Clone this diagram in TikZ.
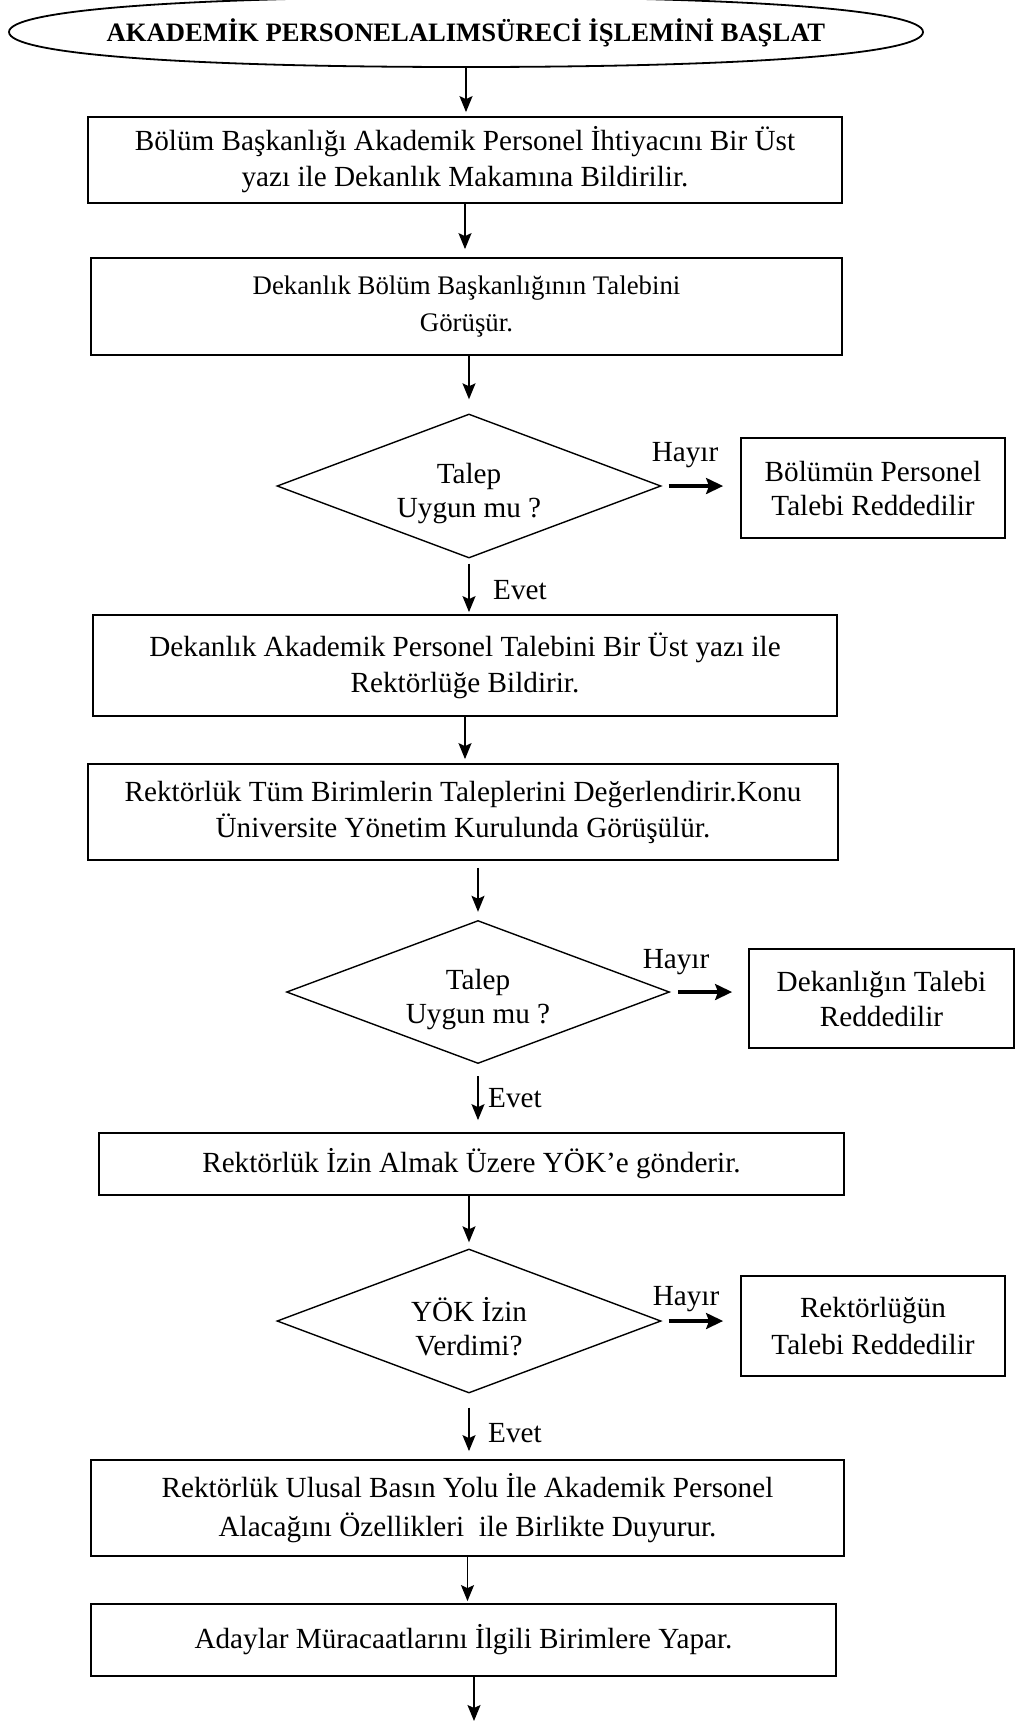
\documentclass[tikz,border=0pt]{standalone}
\usepackage{fontspec}
\setmainfont{Liberation Serif}
\usetikzlibrary{shapes.geometric,arrows.meta}

\tikzset{
  kutu/.style={draw,line width=.9pt,rectangle,inner sep=0pt,align=center,
    font=\fontsize{14.6}{18}\selectfont},
  karar/.style={draw,line width=.7pt,diamond,aspect=2.67,inner sep=0pt,align=center,
    minimum width=192pt,minimum height=72pt,text height=35pt,
    font=\fontsize{14.6}{17}\selectfont},
  ok/.style={-{Stealth[length=8pt,width=6.5pt,inset=1.5pt]},line width=.8pt},
  hok/.style={-{Stealth[length=8.5pt,width=8pt,inset=1.5pt]},line width=1.6pt},
  etiket/.style={font=\fontsize{14.6}{16}\selectfont,inner sep=0pt},
}

\begin{document}
\begin{tikzpicture}[x=0.5pt,y=-0.5pt]
    \useasboundingbox (0,0) rectangle (1021,1721);
    % baslangic
    \node[ellipse,minimum width=456.5pt,minimum height=35pt,inner sep=0pt,
      font=\bfseries\fontsize{13.3}{16}\selectfont] (basla) at (466,33)
      {\makebox[0pt]{AKADEMİK PERSONELALIMSÜRECİ İŞLEMİNİ BAŞLAT}};
    \draw[line width=.9pt] (923,32) .. controls (923,54) and (750,67) .. (466,67)
      .. controls (182,67) and (9,54) .. (9,32)
      .. controls (9,10) and (182,-3) .. (466,-3)
      .. controls (750,-3) and (923,10) .. (923,32);
    \node[kutu,minimum width=377pt,minimum height=43pt] (b1) at (465,160)
      {Bölüm Başkanlığı Akademik Personel İhtiyacını Bir Üst\\yazı ile Dekanlık Makamına Bildirilir.};
    \node[kutu,minimum width=375.5pt,minimum height=48.5pt,font=\fontsize{13.4}{18.5}\selectfont] (b2) at (466.5,306.5)
      {Dekanlık Bölüm Başkanlığının Talebini\\Görüşür.};
    % birinci karar
    \node[karar] (d1) at (469,486) {Talep\\Uygun mu ?};
    \node[kutu,minimum width=132pt,minimum height=50pt,font=\fontsize{14.6}{17}\selectfont] (r1) at (873,488)
      {Bölümün Personel\\Talebi Reddedilir};
    \node[etiket] (h1) at (685,455) {Hayır};
    \node[etiket] (e1) at (520,590) {Evet};
    \node[kutu,minimum width=372pt,minimum height=50.5pt] (b3) at (465,665.5)
      {Dekanlık Akademik Personel Talebini Bir Üst yazı ile\\Rektörlüğe Bildirir.};
    \node[kutu,minimum width=375pt,minimum height=48pt] (b4) at (463,812)
      {Rektörlük Tüm Birimlerin Taleplerini Değerlendirir.Konu\\Üniversite Yönetim Kurulunda Görüşülür.};
    % ikinci karar
    \node[karar,minimum width=191.5pt,minimum height=71.5pt] (d2) at (478,992) {Talep\\Uygun mu ?};
    \node[kutu,minimum width=132.5pt,minimum height=49.5pt,font=\fontsize{14.6}{17.5}\selectfont] (r2) at (881.5,998.5)
      {Dekanlığın Talebi\\Reddedilir};
    \node[etiket] (h2) at (676,962) {Hayır};
    \node[etiket] (e2) at (515,1098) {Evet};
    \node[kutu,minimum width=372.5pt,minimum height=31pt] (b5) at (471.5,1164)
      {Rektörlük İzin Almak Üzere YÖK’e gönderir.};
    % ucuncu karar
    \node[karar] (d3) at (469,1321) {YÖK İzin\\Verdimi?};
    \node[kutu,minimum width=132pt,minimum height=50pt,font=\fontsize{14.6}{18.5}\selectfont] (r3) at (873,1326)
      {Rektörlüğün\\Talebi Reddedilir};
    \node[etiket] (h3) at (686,1299) {Hayır};
    \node[etiket] (e3) at (515,1433) {Evet};
    \node[kutu,minimum width=376.5pt,minimum height=48pt,font=\fontsize{14.6}{19.5}\selectfont] (b6) at (467.5,1508)
      {Rektörlük Ulusal Basın Yolu İle Akademik Personel\\Alacağını Özellikleri\ \ ile Birlikte Duyurur.};
    \node[kutu,minimum width=372.5pt,minimum height=36pt] (b7) at (463.5,1640)
      {Adaylar Müracaatlarını İlgili Birimlere Yapar.};
    \coordinate (son) at (474,1721);

    % oklar
    \draw[ok,shorten >=2pt] (basla.south) -- (basla.south |- b1.north);
    \draw[ok,shorten >=4pt] (b1.south) -- (b1.south |- b2.north);
    \draw[ok,shorten >=7pt] (d1 |- b2.south) -- (d1.north);
    \draw[ok,shorten <=2.5pt,shorten >=1pt] (d1.south) -- (d1.south |- b3.north);
    \draw[ok,shorten >=2pt] (b3.south) -- (b3.south |- b4.north);
    \draw[ok,shorten <=3.5pt,shorten >=4pt] (d2 |- b4.south) -- (d2.north);
    \draw[ok,shorten <=6pt,shorten >=6pt] (d2.south) -- (d2.south |- b5.north);
    \draw[ok,shorten >=3pt] (d3 |- b5.south) -- (d3.north);
    \draw[ok,shorten <=7pt,shorten >=4pt] (d3.south) -- (d3.south |- b6.north);
    \draw[ok,shorten >=1pt] (b6.south) -- (b6.south |- b7.north);
    \draw[ok] (b7.south -| son) -- (son);
    \draw[hok,shorten <=3.5pt,shorten >=8.5pt] (d1.east) -- (d1.east -| r1.west);
    \draw[hok,shorten <=4pt,shorten >=8pt] (d2.east) -- (d2.east -| r2.west);
    \draw[hok,shorten <=3.5pt,shorten >=8.5pt] (d3.east) -- (d3.east -| r3.west);
\end{tikzpicture}
\end{document}
